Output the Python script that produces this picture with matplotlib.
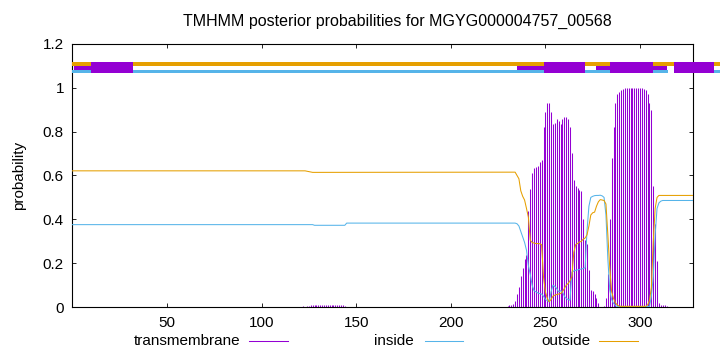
import matplotlib
matplotlib.use("Agg")
import matplotlib.pyplot as plt
import numpy as np
from matplotlib.lines import Line2D

plt.rcParams['font.family'] = ['Liberation Sans', 'DejaVu Sans']

# ---------------- data ----------------
title = "TMHMM posterior probabilities for MGYG000004757_00568"
seq_len = 328
x_ticks = [50, 100, 150, 200, 250, 300]
y_ticks = [0, 0.2, 0.4, 0.6, 0.8, 1.0, 1.2]
y_tick_labels = ["0", "0.2", "0.4", "0.6", "0.8", "1", "1.2"]
legend_labels = ["transmembrane", "inside", "outside"]

# transmembrane posterior (impulses), small bump region
tm_low_start = 120
tm_low = [0.003, 0.003, 0.004, 0.003, 0.004, 0.004,
          0.011, 0.012, 0.012, 0.012, 0.012, 0.012, 0.012, 0.012, 0.012,
          0.012, 0.012, 0.012, 0.012, 0.012, 0.012, 0.012, 0.012, 0.011,
          0.005]
# transmembrane posterior, main region
tm_main_start = 229
tm_main = [0.003, 0.005, 0.008, 0.01, 0.015, 0.03, 0.06, 0.09, 0.14, 0.18,
           0.22, 0.24, 0.44, 0.54, 0.61, 0.635, 0.64, 0.645, 0.66, 0.67,
           0.82, 0.89, 0.93, 0.93, 0.89, 0.835, 0.84, 0.855, 0.85, 0.835,
           0.855, 0.865, 0.866, 0.855, 0.82, 0.70, 0.58, 0.55, 0.545, 0.535,
           0.53, 0.40, 0.305, 0.29, 0.17, 0.08, 0.075, 0.06, 0.04, 0.02,
           0.0, 0.0, 0.005, 0.04, 0.15, 0.40, 0.68, 0.82, 0.93, 0.97,
           0.98, 0.99, 0.995, 0.997, 0.998, 0.999, 0.999, 0.999, 0.999, 0.999,
           0.998, 0.998, 0.997, 0.995, 0.99, 0.97, 0.93, 0.90, 0.55, 0.38,
           0.21, 0.02, 0.012, 0.01, 0.008, 0.005]

# inside posterior: flat head vertices, per-residue main region, flat tail
in_head_x = [0, 127, 128, 144, 145, 233]
in_head_y = [0.376, 0.376, 0.373, 0.373, 0.383, 0.383]
in_main_start = 234
in_main = [0.383, 0.38, 0.37, 0.345, 0.32, 0.295, 0.26, 0.19, 0.15, 0.10,
           0.075, 0.07, 0.065, 0.062, 0.06, 0.05, 0.035, 0.03, 0.024, 0.07,
           0.10, 0.095, 0.085, 0.07, 0.075, 0.07, 0.05, 0.04, 0.035, 0.032,
           0.16, 0.165, 0.168, 0.17, 0.172, 0.174, 0.176, 0.18, 0.35, 0.46,
           0.50, 0.505, 0.508, 0.509, 0.509, 0.51, 0.507, 0.50, 0.42, 0.22,
           0.08, 0.035, 0.017, 0.008,
           0.003, 0.003, 0.003, 0.003, 0.003, 0.003, 0.003, 0.003, 0.003,
           0.003, 0.003, 0.003, 0.003, 0.003, 0.003, 0.003, 0.003, 0.003,
           0.05, 0.14, 0.33, 0.45, 0.475, 0.483, 0.486, 0.486]
in_tail_x = [328]
in_tail_y = [0.486]

# outside posterior
out_head_x = [0, 123, 127, 233]
out_head_y = [0.621, 0.621, 0.614, 0.615]
out_main_start = 234
out_main = [0.615, 0.60, 0.585, 0.53, 0.505, 0.488, 0.45, 0.41, 0.305, 0.295,
            0.292, 0.29, 0.29, 0.289, 0.285, 0.138, 0.07, 0.04, 0.025, 0.035,
            0.05, 0.055, 0.058, 0.06, 0.062, 0.07, 0.085, 0.10, 0.108, 0.12,
            0.14, 0.25, 0.285, 0.29, 0.297, 0.30, 0.31, 0.315, 0.33, 0.37,
            0.42, 0.43, 0.433, 0.46, 0.48, 0.49, 0.488, 0.486, 0.47, 0.33,
            0.18, 0.07, 0.04, 0.02, 0.01, 0.005,
            0.004, 0.004, 0.004, 0.004, 0.004, 0.004, 0.004,
            0.004, 0.004, 0.004, 0.004, 0.004, 0.004, 0.004,
            0.01, 0.03, 0.09, 0.30, 0.45, 0.50, 0.509]
out_tail_x = [328]
out_tail_y = [0.509]

# topology bar at the top (residue ranges)
thin_start = [1, 235, 277, 307]
thin_end = [10, 249, 284, 314]
thick_start = [10, 249, 284, 318]
thick_end = [32, 271, 307, 339]
outside_line_start = [0]
outside_line_end = [350]
inside_line_start = [0, 318]
inside_line_end = [315, 350]

# ---------------- styles ----------------
c_tm = '#9400D3'
c_in = '#56B4E9'
c_out = '#E69F00'
FS = 11

fig = plt.figure(figsize=(7.2, 3.52), dpi=100)
L, R, T, B = 72.3, 693.0, 43.7, 307.2
ax = fig.add_axes([L / 720, (352 - B) / 352, (R - L) / 720, (B - T) / 352])

tm_x = np.concatenate([tm_low_start + np.arange(len(tm_low)),
                       tm_main_start + np.arange(len(tm_main))])
tm_y = np.concatenate([tm_low, tm_main])
ax.vlines(tm_x, 0, tm_y, color=c_tm, lw=0.75, zorder=2)

in_x = np.concatenate([in_head_x, in_main_start + np.arange(len(in_main)), in_tail_x])
in_y = np.concatenate([in_head_y, in_main, in_tail_y])
out_x = np.concatenate([out_head_x, out_main_start + np.arange(len(out_main)), out_tail_x])
out_y = np.concatenate([out_head_y, out_main, out_tail_y])
ax.plot(in_x, in_y, color=c_in, lw=0.75, zorder=3)
ax.plot(out_x, out_y, color=c_out, lw=0.75, zorder=3)

def segs(s, e):
    return [(a, b - a) for a, b in zip(s, e)]

# top topology
ax.broken_barh(segs(outside_line_start, outside_line_end), (1.100, 0.018),
               facecolors=c_out, edgecolor='none', clip_on=False, zorder=4)
ax.broken_barh(segs(inside_line_start, inside_line_end), (1.065, 0.013),
               facecolors=c_in, edgecolor='none', clip_on=False, zorder=4)
ax.broken_barh(segs(thin_start, thin_end), (1.078, 0.022),
               facecolors=c_tm, edgecolor='none', clip_on=False, zorder=5)
ax.broken_barh(segs(thick_start, thick_end), (1.067, 0.050),
               facecolors=c_tm, edgecolor='none', clip_on=False, zorder=5)

ax.set_xlim(0, seq_len)
ax.set_ylim(0, 1.2)
ax.set_xticks(x_ticks)
ax.set_xticklabels([str(v) for v in x_ticks])
ax.set_yticks(y_ticks)
ax.set_yticklabels(y_tick_labels)
ax.tick_params(direction='in', length=3, width=0.6, top=True, right=True,
               labelsize=FS, pad=6, colors='black')
for s in ax.spines.values():
    s.set_linewidth(0.8)

ax.set_ylabel("probability", fontsize=FS, labelpad=12)
fig.text(397.5 / 720, 1 - 21 / 352, title, ha='center', va='center', fontsize=11.5)

# legend at the bottom
ly = 1 - 341 / 352
leg = [(240, 249, 288, c_tm), (414, 425, 463, c_in), (590, 599, 638, c_out)]
for lab, (tx, x0, x1, col) in zip(legend_labels, leg):
    fig.text(tx / 720, ly, lab, ha='right', va='center', fontsize=FS)
    fig.add_artist(Line2D([x0 / 720, x1 / 720], [ly, ly], color=col, lw=0.75))

fig.savefig("out.png", dpi=100)
